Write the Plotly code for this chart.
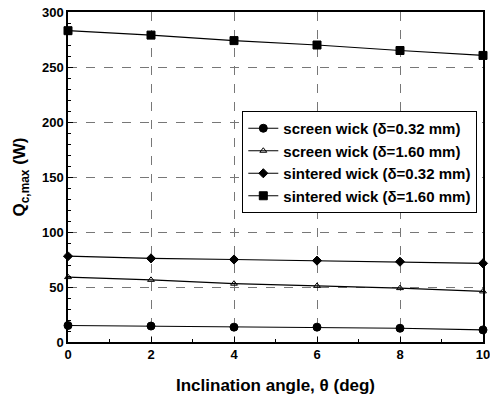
import plotly.graph_objects as go

angle = [0, 2, 4, 6, 8, 10]
screen_032 = [15, 14.5, 13.5, 13.5, 12.5, 11]
screen_160 = [59, 56.5, 53, 51, 49, 46]
sintered_032 = [78, 76, 75, 74, 73, 71.5]
sintered_160 = [283, 279, 274, 270, 265, 260.5]

series = [
    ("screen wick (δ=0.32 mm)", screen_032, "circle", "black", 8),
    ("screen wick (δ=1.60 mm)", screen_160, "triangle-up-open", "black", 6),
    ("sintered wick (δ=0.32 mm)", sintered_032, "diamond", "black", 7),
    ("sintered wick (δ=1.60 mm)", sintered_160, "square", "black", 8),
]

fig = go.Figure()
for name, vals, sym, col, sz in series:
    fig.add_trace(go.Scatter(
        x=angle, y=vals, mode="lines+markers", name="<b>" + name + "</b>",
        line=dict(color="black", width=1.2),
        marker=dict(symbol=sym, size=sz, color=col, line=dict(color="black", width=1)),
        cliponaxis=False,
    ))

fam = "Liberation Sans, Arial"
fig.update_layout(
    width=490, height=407,
    margin=dict(l=68, r=7, t=12, b=65),
    paper_bgcolor="white", plot_bgcolor="white",
    font=dict(family=fam, size=13, color="black"),
    showlegend=True,
    legend=dict(x=0.42, y=0.70, xanchor="left", yanchor="top",
                bgcolor="white", bordercolor="black", borderwidth=1,
                font=dict(family=fam, size=15, color="black"),
                tracegroupgap=0, itemwidth=30),
)
fig.update_xaxes(
    range=[0, 10], tickvals=[0, 2, 4, 6, 8, 10], automargin=False,
    ticklabeloverflow="allow",
    showline=True, linecolor="black", linewidth=1.5, mirror=True,
    ticks="inside", ticklen=5, tickcolor="black",
    minor=dict(dtick=1, ticks="inside", ticklen=3, tickcolor="black"),
    showgrid=True, gridcolor="#777", griddash="dash", gridwidth=0.7,
    tickfont=dict(family=fam, size=13, color="black", weight="bold"),
    title=dict(text="<b>Inclination angle, θ (deg)</b>", font=dict(size=17), standoff=18),
    zeroline=False,
)
fig.update_yaxes(
    range=[0, 300], dtick=50, automargin=False,
    showline=True, linecolor="black", linewidth=1.5, mirror=True,
    ticks="inside", ticklen=5, tickcolor="black",
    minor=dict(dtick=10, ticks="inside", ticklen=3, tickcolor="black"),
    showgrid=True, gridcolor="#777", griddash="dash", gridwidth=0.7,
    tickfont=dict(family=fam, size=13, color="black", weight="bold"),
    title=dict(text="<b>Q<sub>c,max</sub> (W)</b>", font=dict(size=17), standoff=12),
    zeroline=False,
)
fig.write_html("out.html")
